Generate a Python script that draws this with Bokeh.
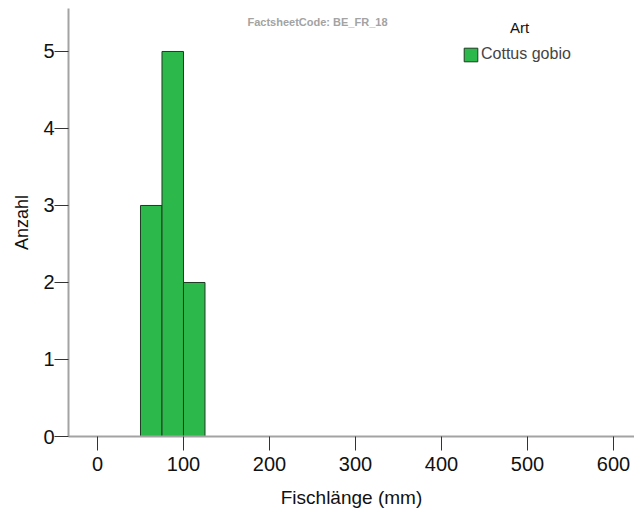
from bokeh.plotting import figure
from bokeh.models import FixedTicker, Legend, LegendItem, Label, Range1d, ColumnDataSource
from bokeh.embed import file_html
from bokeh.resources import INLINE

# ---- data ----
species = "Cottus gobio"
bin_left = [50, 75, 100]
bin_right = [75, 100, 125]
counts = [3, 5, 2]
x_ticks = [0, 100, 200, 300, 400, 500, 600]
y_ticks = [0, 1, 2, 3, 4, 5]
x_title = "Fischlänge (mm)"
y_title = "Anzahl"
legend_title = "Art"
code_text = "FactsheetCode: BE_FR_18"

FONT = "Liberation Sans"
BAR_FILL = "#2db84b"
BAR_LINE = "#1f3a24"

p = figure(
    frame_width=566, frame_height=428,
    x_range=Range1d(-33.7, 624.4), y_range=Range1d(0, 5.558),
    output_backend="svg", toolbar_location=None,
    min_border_left=68, min_border_right=0, min_border_top=8, min_border_bottom=72,
)
p.outline_line_color = None
p.grid.visible = False

src = ColumnDataSource(dict(left=bin_left, right=bin_right, top=counts, bottom=[0] * len(counts)))
bars = p.quad(left="left", right="right", top="top", bottom="bottom", source=src,
              fill_color=BAR_FILL, line_color=BAR_LINE, line_width=1)

for ax, ticks in ((p.xaxis[0], x_ticks), (p.yaxis[0], y_ticks)):
    ax.ticker = FixedTicker(ticks=ticks)
    ax.minor_tick_line_color = None
    ax.major_tick_out = 14
    ax.major_tick_in = 0
    ax.axis_line_color = "#a3a3a3"
    ax.axis_line_width = 2
    ax.major_tick_line_color = "#333333"
    ax.major_label_text_font = FONT
    ax.major_label_text_font_size = "20px"
    ax.major_label_text_color = "#111111"
    ax.axis_label_text_font = FONT
    ax.axis_label_text_font_size = "18px"
    ax.axis_label_text_font_style = "normal"
    ax.axis_label_text_color = "#111111"

p.xaxis.axis_label = x_title
p.xaxis.axis_label_text_font_size = "19px"
p.yaxis.axis_label = y_title
p.xaxis.major_label_standoff = 6
p.xaxis.axis_label_standoff = 13
p.yaxis.major_label_standoff = 0
p.yaxis.axis_label_standoff = 8

legend = Legend(items=[LegendItem(label=species, renderers=[bars])],
                location=(394, 373), padding=0, margin=0, spacing=0,
                border_line_color=None, background_fill_alpha=0,
                glyph_width=17, glyph_height=17, label_height=17, label_standoff=2,
                label_text_font=FONT, label_text_font_size="16px")
p.add_layout(legend)

p.add_layout(Label(x=451, y=409, x_units="screen", y_units="screen", text=legend_title,
                   text_font=FONT, text_font_size="15px", text_align="center",
                   text_baseline="alphabetic", text_color="#111111"))
p.add_layout(Label(x=249, y=415, x_units="screen", y_units="screen", text=code_text,
                   text_font=FONT, text_font_size="11px", text_font_style="bold",
                   text_align="center", text_baseline="alphabetic", text_color="#a3a3a3"))

open("out.html", "w").write(file_html(p, INLINE))
